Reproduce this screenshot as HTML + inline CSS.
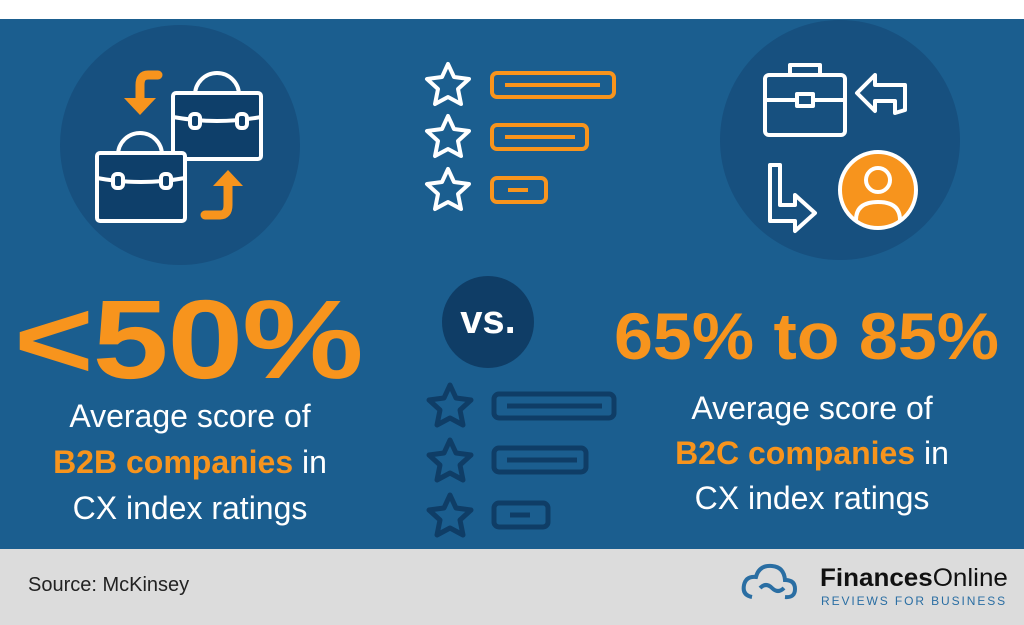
<!DOCTYPE html>
<html><head><style>
body{margin:0;width:1024px;height:625px;overflow:hidden;background:#fff;font-family:"Liberation Sans",sans-serif;position:relative}
.t{position:absolute;white-space:nowrap}
</style></head><body>
<div style="position:absolute;left:0;top:19px;width:1024px;height:530px;background:#1b5e8f"></div>
<div style="position:absolute;left:0;top:549px;width:1024px;height:76px;background:#dcdcdc"></div>
<svg width="1024" height="625" style="position:absolute;left:0;top:0">
<circle cx="180" cy="145" r="120" fill="#17507f"/>
<circle cx="840" cy="140" r="120" fill="#17507f"/>
<circle cx="488" cy="322" r="46" fill="#0f3d66"/>
<g stroke="#fff" stroke-width="4" fill="#0e3f6a" stroke-linejoin="round">
<path d="M195 95 a22 22 0 0 1 44 0" fill="none"/>
<rect x="173" y="93" width="88" height="66" rx="3"/>
<path d="M173 117 q44 8 88 0" fill="none"/>
<rect x="190" y="114" width="10" height="14" rx="4"/><rect x="237" y="114" width="10" height="14" rx="4"/>
<path d="M118 155 a22 22 0 0 1 44 0" fill="none"/>
<rect x="97" y="153" width="88" height="68" rx="3"/>
<path d="M97 178 q44 8 88 0" fill="none"/>
<rect x="113" y="174" width="10" height="14" rx="4"/><rect x="161" y="174" width="10" height="14" rx="4"/>
</g>
<g fill="none" stroke="#f7941d" stroke-width="9" stroke-linecap="round">
<path d="M158 75 h-10 q-8 0 -8 10 v20"/><path d="M205 215 h15 q8 0 8 -10 v-25"/>
</g>
<path d="M124 98 l16 17 l16 -17z" fill="#f7941d"/><path d="M213 186 l15 -16 l15 16z" fill="#f7941d"/>
<g stroke="#fff" stroke-width="4" fill="none" stroke-linejoin="round">
<rect x="765" y="75" width="80" height="60" rx="4"/><path d="M790 75 v-10 h30 v10"/>
<path d="M765 100 h80"/><rect x="797" y="94" width="16" height="12" fill="#17507f"/>
<path d="M905 110 v-25 h-30 l0 -10 l-18 18 l18 18 l0 -10 h20 v12z"/>
<path d="M780 165 v40 h15 v-10 l20 18 l-20 18 v-10 h-25 v-56z"/>
</g>
<circle cx="878" cy="190" r="38" fill="#f7941d" stroke="#fff" stroke-width="4"/>
<g stroke="#fff" stroke-width="4" fill="none"><circle cx="878" cy="180" r="12"/><path d="M856 220 q0 -18 22 -18 q22 0 22 18"/></g>
<g fill="none" stroke="#fff" stroke-width="4" stroke-linejoin="round">
<path d="M448 64 l6 13 l15 2 l-11 10 l3 15 l-13 -7 l-13 7 l3 -15 l-11 -10 l15 -2z"/>
<path d="M448 116 l6 13 l15 2 l-11 10 l3 15 l-13 -7 l-13 7 l3 -15 l-11 -10 l15 -2z"/>
<path d="M448 169 l6 13 l15 2 l-11 10 l3 15 l-13 -7 l-13 7 l3 -15 l-11 -10 l15 -2z"/>
</g>
<g fill="none" stroke="#f7941d" stroke-width="4">
<rect x="492" y="73" width="122" height="24" rx="5"/><path d="M505 85 h95"/>
<rect x="492" y="125" width="95" height="24" rx="5"/><path d="M505 137 h70"/>
<rect x="492" y="178" width="54" height="24" rx="5"/><path d="M508 190 h20"/>
</g>
<g fill="none" stroke="#0f3d66" stroke-width="5" stroke-linejoin="round">
<path d="M450 385 l6 13 l15 2 l-11 10 l3 15 l-13 -7 l-13 7 l3 -15 l-11 -10 l15 -2z"/>
<path d="M450 440 l6 13 l15 2 l-11 10 l3 15 l-13 -7 l-13 7 l3 -15 l-11 -10 l15 -2z"/>
<path d="M450 495 l6 13 l15 2 l-11 10 l3 15 l-13 -7 l-13 7 l3 -15 l-11 -10 l15 -2z"/>
<rect x="494" y="394" width="120" height="24" rx="5"/><path d="M507 406 h95"/>
<rect x="494" y="448" width="92" height="24" rx="5"/><path d="M507 460 h70"/>
<rect x="494" y="503" width="54" height="24" rx="5"/><path d="M510 515 h20"/>
</g>
<g fill="none" stroke="#2a6ea3" stroke-width="4"><path d="M752 597 q-10 -2 -8 -12 q2 -9 12 -8 q3 -12 16 -11 q12 1 13 14 q10 0 10 9 q0 9 -10 8"/><path d="M760 588 q6 -6 12 0 q6 6 12 0"/></g>
</svg>
<div class="t" style="left:14px;top:275px;font-size:112px;font-weight:bold;color:#f7941d;letter-spacing:-1px;transform:scaleX(1.22);transform-origin:0 0">&lt;50%</div>
<div class="t" style="left:0;width:380px;text-align:center;top:393px;font-size:32px;line-height:46px;color:#fff">Average score of<br><b style="color:#f7941d">B2B companies</b> in<br>CX index ratings</div>
<div class="t" style="left:448px;top:298px;font-size:40px;font-weight:bold;color:#fff;width:80px;text-align:center">vs.</div>
<div class="t" style="left:614px;top:298px;font-size:66px;font-weight:bold;color:#f7941d;transform:scaleX(1.06);transform-origin:0 0">65% to 85%</div>
<div class="t" style="left:620px;width:384px;text-align:center;top:386px;font-size:32px;line-height:45px;color:#fff">Average score of<br><b style="color:#f7941d">B2C companies</b> in<br>CX index ratings</div>
<div class="t" style="left:28px;top:574px;font-size:20px;color:#222">Source: McKinsey</div>
<div class="t" style="left:820px;top:564px;font-size:25px;color:#111;transform:scaleX(1.04);transform-origin:0 0"><b>Finances</b>Online</div>
<div class="t" style="left:821px;top:594px;font-size:12px;letter-spacing:1.9px;color:#2a6ea3">REVIEWS FOR BUSINESS</div>
</body></html>
